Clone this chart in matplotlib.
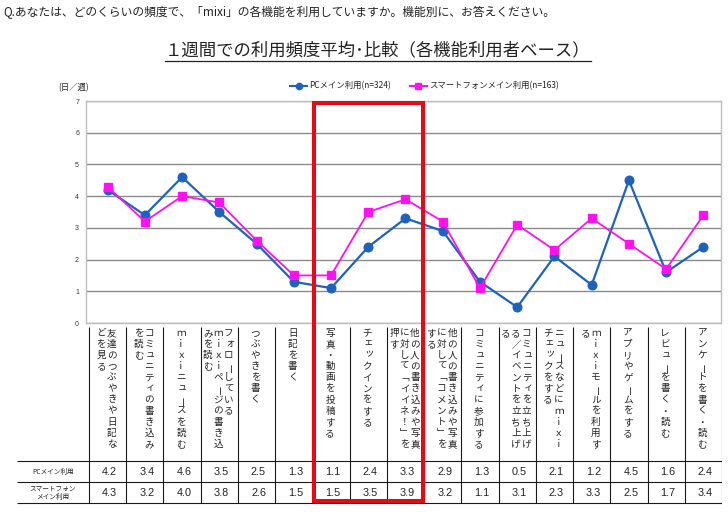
import matplotlib
matplotlib.use('Agg')
import matplotlib.pyplot as plt
from matplotlib.lines import Line2D
from matplotlib.patches import Rectangle

plt.rcParams['font.family'] = ['Noto Sans CJK JP', 'DejaVu Sans']

# ---------------- data ----------------
question = "Q.あなたは、どのくらいの頻度で、「mixi」の各機能を利用していますか。機能別に、お答えください。"
title = "１週間での利用頻度平均･比較（各機能利用者ベース）"
y_unit = "(日／週)"
categories = [
    "友達のつぶやきや日記な\nどを見る",
    "コミュニティの書き込み\nを読む",
    "ｍｉｘｉニュースを読む",
    "フォローしている\nｍｉｘｉページの書き込\nみを読む",
    "つぶやきを書く",
    "日記を書く",
    "写真・動画を投稿する",
    "チェックインをする",
    "他の人の書き込みや写真\nに対して「イイネ！」を\n押す",
    "他の人の書き込みや写真\nに対して「コメント」を\nする",
    "コミュニティに参加する",
    "コミュニティを立ち上げ\nる／イベントを立ち上げ\nる",
    "ニュースなどにｍｉｘｉ\nチェックをする",
    "ｍｉｘｉモールを利用す\nる",
    "アプリやゲームをする",
    "レビューを書く・読む",
    "アンケートを書く・読む",
]
series_names = ["PCメイン利用(n=324)", "スマートフォンメイン利用(n=163)"]
row_labels = ["PCメイン利用", "スマートフォン\nメイン利用"]
pc_values = [4.2, 3.4, 4.6, 3.5, 2.5, 1.3, 1.1, 2.4, 3.3, 2.9, 1.3, 0.5, 2.1, 1.2, 4.5, 1.6, 2.4]
sp_values = [4.3, 3.2, 4.0, 3.8, 2.6, 1.5, 1.5, 3.5, 3.9, 3.2, 1.1, 3.1, 2.3, 3.3, 2.5, 1.7, 3.4]
y_ticks = [0, 1, 2, 3, 4, 5, 6, 7]
highlight_first, highlight_last = 6, 8   # highlighted categories (inclusive)

# ---------------- styling ----------------
W, H = 728, 512
BLUE = '#1F62BE'
MAGENTA = '#FF10F0'
RED = '#E60A14'
TXT = '#222222'

def fx(x):
    return x / W

def fy(y):
    return 1 - y / H

fig = plt.figure(figsize=(W / 100, H / 100), dpi=100)
fig.patch.set_facecolor('white')

# geometry (pixels)
tab_x0, tab_x1 = 89, 722
ncat = len(categories)
cw = (tab_x1 - tab_x0) / ncat
plot_l, plot_r, plot_t, plot_b = 86, 721, 101, 323

# ---------------- line chart ----------------
ax = fig.add_axes([fx(plot_l), fy(plot_b), (plot_r - plot_l) / W, (plot_b - plot_t) / H])
xs = list(range(ncat))
ax.plot(xs, pc_values, color=BLUE, lw=1.6, marker='o', ms=6.2, mec=BLUE, mfc=BLUE, zorder=3)
ax.plot(xs, sp_values, color=MAGENTA, lw=1.3, marker='s', ms=6.2, mec=MAGENTA, mfc=MAGENTA, zorder=4)
ax.set_xlim(-0.5 + (plot_l - tab_x0) / cw, -0.5 + (plot_r - tab_x0) / cw)
ax.set_ylim(y_ticks[0], y_ticks[-1])
ax.set_yticks(y_ticks)
ax.set_yticklabels([str(t) for t in y_ticks], fontsize=5, color='#333333', family=['Liberation Sans'])
ax.set_xticks([])
ax.tick_params(axis='y', length=0, pad=5)
ax.yaxis.grid(True, color='#8a8a8a', lw=1.0)
ax.set_axisbelow(True)
for s in ax.spines.values():
    s.set_color('#bdbdbd')
    s.set_linewidth(1.0)

# ---------------- table ----------------
lab_x0 = 17
tab_top, tab_bot = 323, 505
tax = fig.add_axes([fx(lab_x0), fy(tab_bot), (tab_x1 - lab_x0) / W, (tab_bot - tab_top) / H])
tax.set_xlim(-(tab_x0 - lab_x0) / cw, ncat)
tax.set_ylim(tab_bot, tab_top)
tax.axis('off')

head_top, row1, row2, row3 = 327, 461, 482, 503
tax.vlines(range(ncat + 1), head_top, row3, color='#1a1a1a', lw=0.8)
tax.hlines([row1, row2, row3], -(tab_x0 - lab_x0) / cw, ncat, color='#1a1a1a', lw=0.8)

small_kana = set("ァィゥェォッャュョぁぃぅぇぉっゃゅょ")
vert_map = {'「': '﹁', '」': '﹂'}
col_pitch = 10.5
char_pitch = 11.1
for i, label in enumerate(categories):
    cols = label.split('\n')
    n = len(cols)
    for j, col in enumerate(cols):
        off = ((n - 1) / 2 - j) * col_pitch - 1
        for k, ch in enumerate(col):
            x = i + 0.5 + off / cw
            y = 333.5 + k * char_pitch
            rot = 0
            if ch in ('ー', '－'):
                rot = 90
                x += 2.5 / cw
            if ch in small_kana:
                x += 1.5 / cw
                y -= 1.5
            ch = vert_map.get(ch, ch)
            tax.text(x, y, ch, fontsize=6.9, ha='center', va='center',
                     rotation=rot, rotation_mode='default', color=TXT)

for i, (a, b) in enumerate(zip(pc_values, sp_values)):
    tax.text(i + 0.5 + 2 / cw, 472, f"{a:.1f}", fontsize=7.8, ha='center', va='center',
             family=['Liberation Sans'], color=TXT)
    tax.text(i + 0.5 + 2 / cw, 493, f"{b:.1f}", fontsize=7.8, ha='center', va='center',
             family=['Liberation Sans'], color=TXT)

lab_cx = -(tab_x0 - 53) / cw
tax.text(lab_cx, 472, row_labels[0], fontsize=4.8, ha='center', va='center', color=TXT)
tax.text(lab_cx, 492.5, row_labels[1], fontsize=4.8, ha='center', va='center',
         linespacing=1.0, color=TXT, multialignment='center')

# ---------------- texts ----------------
fig.text(fx(3), fy(12), question, fontsize=8.5, ha='left', va='center', color=TXT)
t = fig.text(fx(378), fy(50), title, fontsize=12.5, ha='center', va='center', color=TXT)
fig.text(fx(58), fy(88), y_unit, fontsize=6, ha='left', va='center', color=TXT)

# legend
leg_y = 86
for (x0, x1, tx), col, mk, name in [((290, 307, 309), BLUE, 'o', series_names[0]),
                                    ((410, 427, 429), MAGENTA, 's', series_names[1])]:
    fig.add_artist(Line2D([fx(x0), fx(x1)], [fy(leg_y)] * 2, color=col, lw=1.5,
                          transform=fig.transFigure))
    fig.add_artist(Line2D([fx((x0 + x1) / 2)], [fy(leg_y)], color=col, marker=mk, ms=4.5,
                          transform=fig.transFigure))
    fig.text(fx(tx), fy(leg_y), name, fontsize=6.0, ha='left', va='center', color=TXT)

# title underline
fig.canvas.draw()
bb = t.get_window_extent()
fig.add_artist(Line2D([bb.x0 / W, bb.x1 / W], [(bb.y0 - 1.5) / H] * 2, color=TXT, lw=0.9,
                      transform=fig.transFigure))

# highlight box around highlighted categories
hx0 = tab_x0 + highlight_first * cw + 2
hx1 = tab_x0 + (highlight_last + 1) * cw - 1
fig.add_artist(Rectangle((fx(hx0), fy(501)), (hx1 - hx0) / W, (501 - 102.5) / H,
                         transform=fig.transFigure, fill=False, ec=RED, lw=2.9, zorder=20))

fig.savefig('out.png', dpi=100, facecolor='white')
